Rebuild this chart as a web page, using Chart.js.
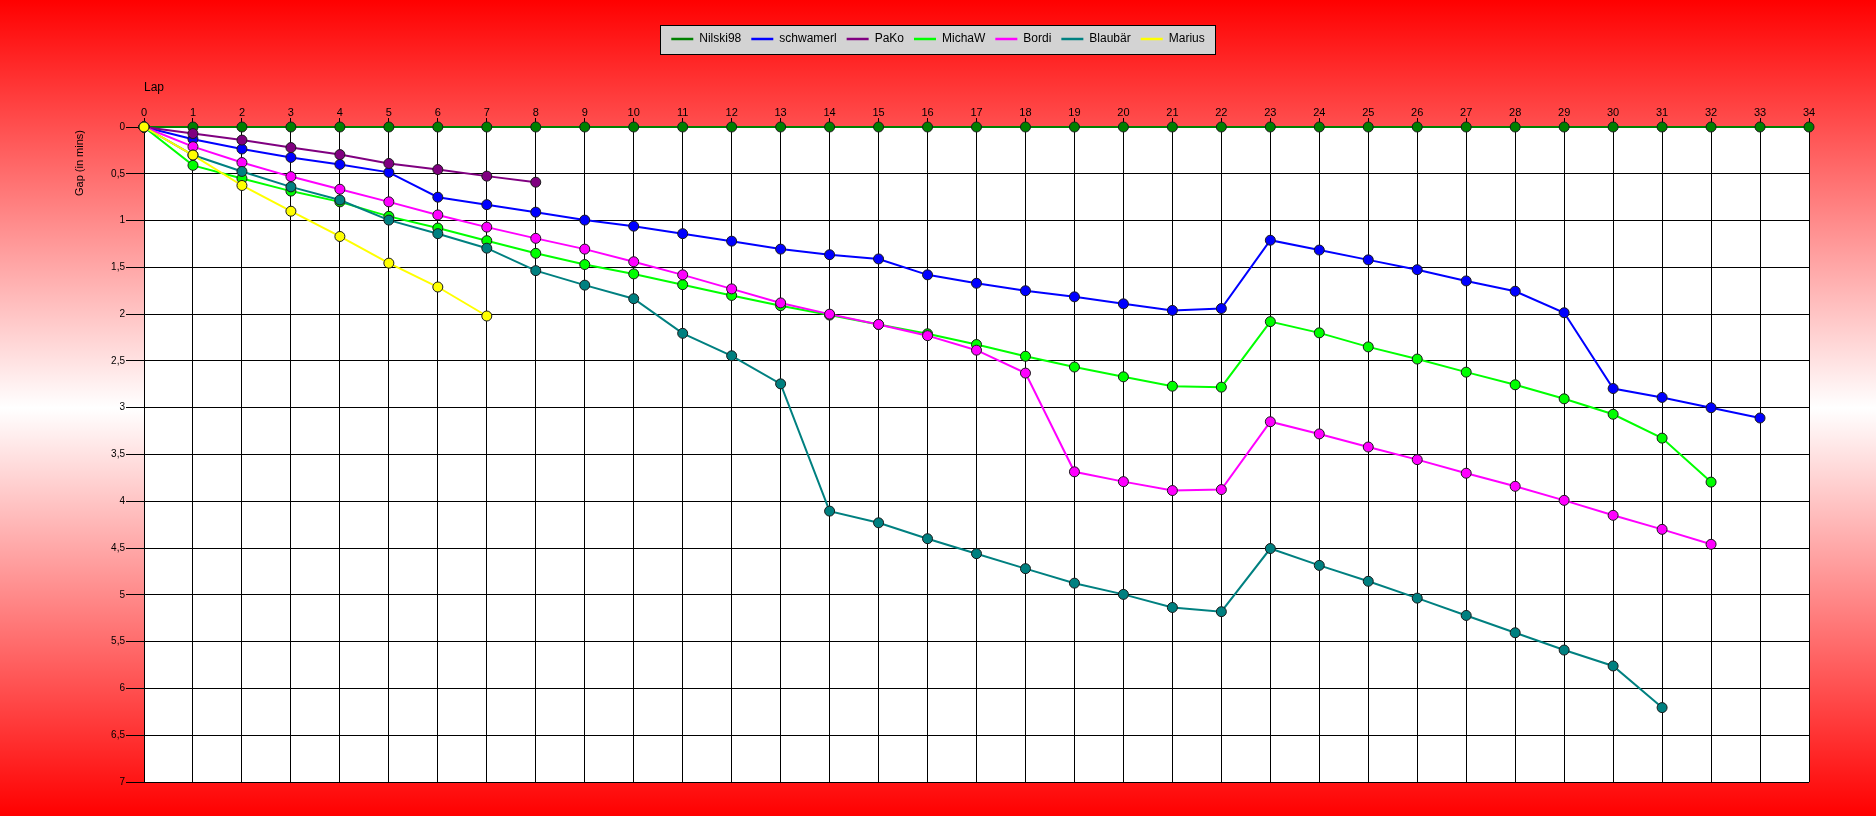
<!DOCTYPE html>
<html>
<head>
<meta charset="utf-8">
<script src="https://cdn.jsdelivr.net/npm/chart.js@4.4.1/dist/chart.umd.min.js"></script>
<style>
  html, body { margin: 0; padding: 0; background: #fff; }
  canvas { display: block; }
</style>
</head>
<body>
<canvas id="gapChart" width="1876" height="816"></canvas>
<script>
// laps 0..34
const laps = Array.from({ length: 35 }, (_, i) => String(i));

const nilski98 = Array(35).fill(0);
const schwamerl = [0, 0.13, 0.235, 0.325, 0.4, 0.485, 0.75, 0.83, 0.91, 0.995, 1.06, 1.14, 1.22, 1.305, 1.365, 1.41, 1.58, 1.67, 1.75, 1.815, 1.89, 1.96, 1.94, 1.21, 1.315, 1.42, 1.525, 1.645, 1.755, 1.985, 2.795, 2.89, 3.0, 3.11];
const pako = [0, 0.07, 0.14, 0.22, 0.295, 0.39, 0.455, 0.525, 0.59];
const michaW = [0, 0.41, 0.55, 0.685, 0.8, 0.955, 1.08, 1.215, 1.35, 1.47, 1.57, 1.685, 1.8, 1.91, 2.01, 2.11, 2.21, 2.325, 2.45, 2.565, 2.67, 2.77, 2.78, 2.08, 2.2, 2.35, 2.48, 2.62, 2.755, 2.905, 3.07, 3.325, 3.795];
const bordi = [0, 0.21, 0.38, 0.53, 0.665, 0.8, 0.94, 1.07, 1.19, 1.305, 1.44, 1.58, 1.73, 1.88, 2.0, 2.11, 2.23, 2.385, 2.63, 3.685, 3.79, 3.885, 3.875, 3.15, 3.28, 3.42, 3.555, 3.7, 3.84, 3.99, 4.15, 4.3, 4.46];
const blaubaer = [0, 0.3, 0.475, 0.64, 0.78, 0.995, 1.14, 1.295, 1.535, 1.69, 1.835, 2.205, 2.445, 2.745, 4.105, 4.23, 4.4, 4.56, 4.72, 4.875, 4.995, 5.135, 5.18, 4.505, 4.685, 4.855, 5.035, 5.22, 5.405, 5.59, 5.76, 6.205];
const marius = [0, 0.3, 0.625, 0.9, 1.17, 1.455, 1.71, 2.02];

const driverNames = ['Nilski98', 'schwamerl', 'PaKo', 'MichaW', 'Bordi', 'Blaubär', 'Marius'];
const driverGaps = [nilski98, schwamerl, pako, michaW, bordi, blaubaer, marius];
const driverColors = ['#008000', '#0000ff', '#800080', '#00ff00', '#ff00ff', '#008080', '#ffff00'];

const FONT = 'Liberation Sans, Arial, sans-serif';
Chart.defaults.font.family = FONT;
Chart.defaults.color = '#000';

// red-white-red background, white plot area, grey legend box, y title
const backdrop = {
  id: 'backdrop',
  beforeDraw(chart) {
    const { ctx, width, height, chartArea: a } = chart;
    ctx.save();
    const g = ctx.createLinearGradient(0, 0, 0, height);
    g.addColorStop(0, '#ff0000');
    g.addColorStop(0.5, '#ffffff');
    g.addColorStop(1, '#ff0000');
    ctx.fillStyle = g;
    ctx.fillRect(0, 0, width, height);
    ctx.fillStyle = '#fff';
    ctx.fillRect(a.left, a.top, a.right - a.left, a.bottom - a.top);

    const boxes = chart.legend && chart.legend.legendHitBoxes;
    if (boxes && boxes.length) {
      const l = Math.min(...boxes.map((b) => b.left)) - 11;
      const r = Math.max(...boxes.map((b) => b.left + b.width)) + 11;
      const cy = boxes[0].top + boxes[0].height / 2;
      ctx.fillStyle = '#d3d3d3';
      ctx.fillRect(l, cy - 14, r - l, 29);
      ctx.strokeStyle = '#000';
      ctx.lineWidth = 1;
      ctx.strokeRect(Math.round(l) + 0.5, Math.round(cy - 14) + 0.5, Math.round(r - l), 29);
    }
    ctx.restore();
  },
  afterDraw(chart) {
    const { ctx, chartArea: a } = chart;
    ctx.save();
    ctx.translate(80, a.top + 3);
    ctx.rotate(-Math.PI / 2);
    ctx.font = '11px ' + FONT;
    ctx.fillStyle = '#000';
    ctx.textAlign = 'right';
    ctx.textBaseline = 'middle';
    ctx.fillText('Gap (in mins)', 0, 0);
    ctx.restore();
  },
};

new Chart(document.getElementById('gapChart'), {
  type: 'line',
  data: {
    labels: laps,
    datasets: driverNames.map((name, i) => ({
      label: name,
      data: driverGaps[i],
      borderColor: driverColors[i],
      backgroundColor: driverColors[i],
      borderWidth: 2,
      pointRadius: 5,
      pointBorderColor: '#1a1a1a',
      pointBorderWidth: 1,
      pointBackgroundColor: driverColors[i],
      tension: 0,
      clip: false,
      order: -i, // later drivers drawn on top
    })),
  },
  options: {
    responsive: false,
    animation: false,
    layout: { padding: { top: 23, left: 67, right: 67, bottom: 34 } },
    plugins: {
      tooltip: { enabled: false },
      legend: {
        position: 'top',
        labels: {
          usePointStyle: true,
          pointStyle: 'line',
          pointStyleWidth: 22,
          padding: 10,
          color: '#000',
          font: { size: 12 },
          generateLabels: (chart) =>
            Chart.defaults.plugins.legend.labels.generateLabels(chart).map((item) => ({
              ...item,
              strokeStyle: driverColors[item.datasetIndex],
              lineWidth: 2.5,
            })),
          sort: (a, b) => a.datasetIndex - b.datasetIndex,
        },
      },
    },
    scales: {
      x: {
        position: 'top',
        offset: false,
        grid: { color: '#000', lineWidth: 1, tickLength: 9 },
        border: { color: '#000', width: 1 },
        ticks: { color: '#000', font: { size: 11 }, padding: -2, maxRotation: 0, autoSkip: false },
        title: {
          display: true,
          text: 'Lap',
          align: 'start',
          color: '#000',
          font: { size: 12 },
          padding: { top: 25, bottom: 0 },
        },
        afterFit: (s) => {
          s.height = 127 - 23 - (s.chart.legend ? s.chart.legend.height : 32);
        },
      },
      y: {
        min: 0,
        max: 7,
        reverse: true,
        grid: { color: '#000', lineWidth: 1, tickLength: 18 },
        border: { color: '#000', width: 1 },
        ticks: {
          stepSize: 0.5,
          color: '#000',
          font: { size: 10 },
          padding: 1,
          callback: (v) => String(v).replace('.', ','),
        },
        afterFit: (s) => { s.width = 144 - 67; },
      },
    },
  },
  plugins: [backdrop],
});
</script>
</body>
</html>
